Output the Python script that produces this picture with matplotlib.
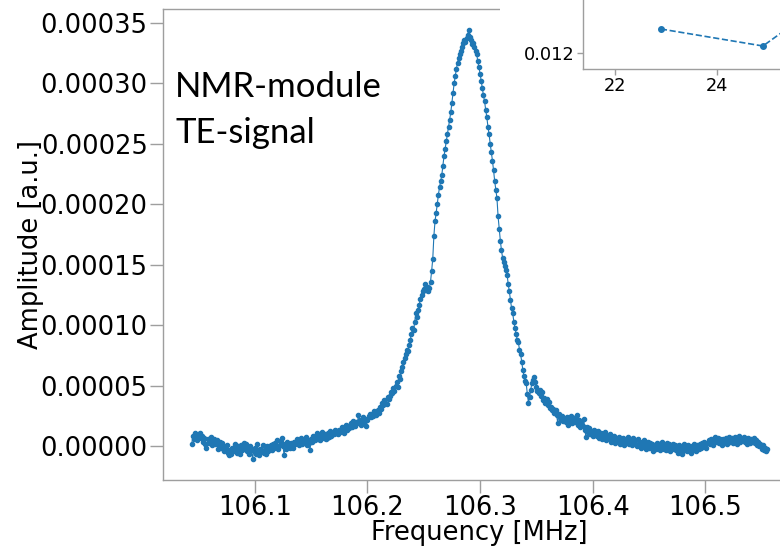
import numpy as np
import matplotlib
matplotlib.use("Agg")
import matplotlib.pyplot as plt
from matplotlib.patches import Rectangle

# frequency sweep: start and step in MHz, one amplitude per step
freq_start = 106.044
freq_step = 0.001

# amplitude in units of 1e-6 (a.u.)
amp_1e6 = [
    2, 9, 6, 11, 8, 5, 10, 11, 7, 9,
    4, 7, 2, -1, 6, 3, 5, 8, 1, 4,
    6, 2, 5, -2, 1, 4, -1, 3, 0, -4,
    -2, 1, -5, -7, -3, -6, -1, -4, 2, -2,
    -5, 0, -2, -6, 1, -3, 3, -1, 2, -4,
    -1, -6, 0, -3, -10, -4, -1, -6, 2, -3,
    -7, -2, -4, 1, -5, -3, -6, 0, -4, -2,
    1, -3, 2, -1, 3, 0, 5, -2, 1, 4,
    7, 0, -7, 2, -2, 4, 1, -1, 3, 0,
    -1, 4, 2, 6, 5, 1, 3, 7, 2, 5,
    4, 8, 1, 5, 3, -3, 6, 4, 9, 5,
    7, 11, 6, 9, 5, 8, 12, 7, 10, 6,
    7, 11, 8, 13, 9, 12, 10, 14, 11, 13,
    10, 14, 12, 16, 13, 11, 15, 18, 14, 17,
    15, 19, 16, 21, 18, 17, 20, 19, 26, 22,
    18, 21, 24, 20, 23, 17, 22, 25, 27, 24,
    27, 25, 29, 28, 26, 30, 28, 33, 31, 36,
    34, 38, 36, 35, 41, 39, 42, 45, 44, 48,
    46, 50, 53, 49, 58, 56, 62, 66, 70, 73,
    76, 80, 79, 84, 88, 93, 98, 96, 103, 110,
    107, 113, 117, 122, 125, 128, 130, 134, 129, 132,
    128, 131, 136, 145, 155, 174, 186, 193, 200, 208,
    214, 219, 224, 232, 240, 246, 252, 258, 264, 270,
    276, 284, 292, 300, 306, 312, 317, 321, 324, 327,
    330, 333, 336, 334, 337, 340, 344, 338, 336, 332,
    333, 330, 327, 324, 318, 313, 308, 302, 296, 290,
    285, 278, 272, 264, 258, 250, 243, 236, 228, 219,
    212, 205, 190, 180, 170, 162, 156, 152, 149, 146,
    142, 134, 128, 121, 114, 110, 103, 98, 93, 88,
    86, 80, 76, 70, 63, 58, 54, 52, 43, 36,
    41, 47, 52, 55, 57, 53, 49, 46, 44, 47,
    42, 45, 38, 40, 36, 39, 34, 37, 32, 33,
    30, 31, 28, 30, 26, 19, 27, 24, 22, 25,
    21, 23, 20, 24, 18, 22, 21, 25, 19, 22,
    20, 24, 26, 18, 22, 16, 20, 17, 23, 14,
    8, 16, 12, 15, 10, 13, 9, 14, 11, 12,
    9, 13, 7, 11, 6, 10, 8, 12, 5, 9,
    7, 10, 4, 8, 6, 9, 3, 7, 5, 8,
    2, 6, 4, 7, 1, 5, 3, 8, 2, 6,
    4, 1, 7, 3, 5, 0, 6, 2, 4, -1,
    3, 0, 5, -2, 2, 4, -1, 3, 0, 2,
    -4, 1, -2, 3, -1, 2, -3, 0, 4, -2,
    1, -3, 3, -1, 2, -4, 0, 2, -2, 1,
    -3, 0, -5, 1, -2, -6, -1, 2, -3, 0,
    -4, 1, -2, -5, 0, -3, 2, -1, -4, 1,
    -2, 2, -1, 3, 0, 4, 1, -1, 3, 5,
    2, 6, 3, 1, 5, 8, 4, 7, 3, 6,
    4, 1, 6, 3, 7, 2, 5, 8, 4, 6,
    7, 3, 8, 5, 2, 6, 9, 4, 7, 5,
    8, 4, 6, 2, 7, 5, 3, 6, 4, 7,
    3, 5, 1, 4, 0, 2, -2, 1, -3, -1,
    -4, -2,
]

# inset (only partly visible in the picture)
inset_x = [22.9, 24.9, 26.9]
inset_y = [0.01224, 0.01207, 0.0128]
inset_xticks = [22, 24, 26]
inset_yticks = [0.012, 0.013]

W, H = 780, 548
SPINE = "0.62"


def px(x, y):
    """pixel (from top-left) -> figure fraction"""
    return x / W, 1 - y / H


def main():
    freq = freq_start + freq_step * np.arange(len(amp_1e6))
    amp = np.array(amp_1e6) * 1e-6

    fig = plt.figure(figsize=(W / 100, H / 100), dpi=100)
    # main axes runs past the right edge like in the cropped original
    ax = fig.add_axes([163 / W, 1 - 480 / H, (796 - 163) / W, (480 - 8.5) / H])
    ax.plot(freq, amp, marker="o", markersize=3, linewidth=0.8, color="#1f77b4")

    for s in ax.spines.values():
        s.set_color(SPINE)
        s.set_linewidth(1.0)
    ax.tick_params(colors=SPINE, labelcolor="black", length=9.5, width=1.0,
                   labelsize=18.5, pad=1.5)
    ax.set_xticks([106.1, 106.2, 106.3, 106.4, 106.5])
    ax.set_yticks(np.arange(0, 0.00036, 0.00005))
    ax.yaxis.set_major_formatter(plt.FormatStrFormatter("%.5f"))
    ax.set_xlabel("Frequency [MHz]", fontsize=18.5)
    ax.set_ylabel("Amplitude [a.u.]", fontsize=18.5)
    ax.xaxis.set_label_coords(0.5, -0.085)
    ax.yaxis.set_label_coords(-0.188, 0.5)

    # annotation text (added on top of the figure)
    fig.text(*px(175, 97), "NMR-module", fontsize=25, family="Lato", va="baseline")
    fig.text(*px(175, 143), "TE-signal", fontsize=25, family="Lato", va="baseline")

    # white patch the inset sits on
    x0, y0 = px(500, 97)
    fig.patches.append(Rectangle((x0, y0), 1 - x0, 1 - y0, transform=fig.transFigure,
                                 facecolor="white", edgecolor="none", zorder=5))

    ins = fig.add_axes([583 / W, 1 - 69 / H, (900 - 583) / W, (69 + 60) / H])
    ins.set_zorder(6)
    ins.plot(inset_x, inset_y, marker="o", markersize=4, linestyle="--",
             linewidth=1.2, color="#1f77b4")
    ins.set_xlim(21.373, 27.588)
    ins.set_ylim(0.01184, 0.01313)
    ins.set_xticks(inset_xticks)
    ins.set_yticks(inset_yticks)
    ins.yaxis.set_major_formatter(plt.FormatStrFormatter("%.3f"))
    for s in ins.spines.values():
        s.set_color(SPINE)
        s.set_linewidth(1.0)
    ins.tick_params(colors=SPINE, labelcolor="black", length=4, width=1.0,
                    labelsize=12.8, pad=2)

    fig.savefig("out.png", dpi=100)


if __name__ == "__main__":
    main()
